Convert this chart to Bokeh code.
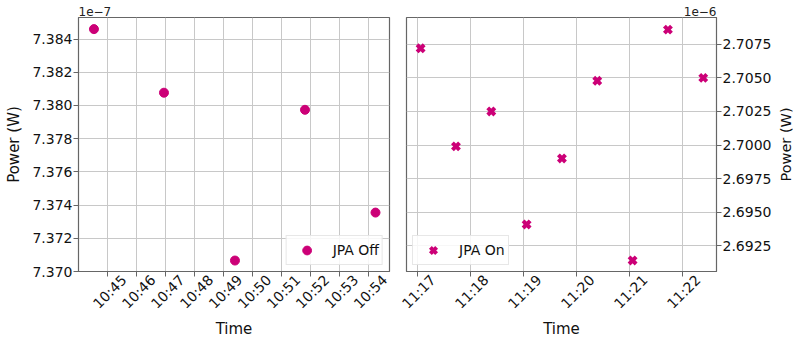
import math
import pandas as pd
from bokeh.plotting import figure
from bokeh.layouts import row
from bokeh.models import (FixedTicker, DatetimeTickFormatter, NumeralTickFormatter,
                          Range1d, Legend, LegendItem, DatetimeAxis)
from bokeh.embed import file_html
from bokeh.resources import INLINE

DAY = "2024-01-01"

# JPA off: sample times and measured power (in units of 1e-7 W)
off_times = ["10:44:31", "10:46:56", "10:49:23", "10:51:48", "10:54:14"]
off_power = [7.38460, 7.38077, 7.37066, 7.37974, 7.37355]

# JPA on: sample times and measured power (in units of 1e-6 W)
on_times = ["11:17:04", "11:17:44", "11:18:24", "11:19:04", "11:19:44",
            "11:20:24", "11:21:04", "11:21:44", "11:22:24"]
on_power = [2.70720, 2.69990, 2.70250, 2.69409, 2.69900,
            2.70478, 2.69141, 2.70859, 2.70500]

# axis ticks
off_x_ticks = ["10:45", "10:46", "10:47", "10:48", "10:49",
               "10:50", "10:51", "10:52", "10:53", "10:54"]
on_x_ticks = ["11:17", "11:18", "11:19", "11:20", "11:21", "11:22"]
off_y_ticks = [7.370, 7.372, 7.374, 7.376, 7.378, 7.380, 7.382, 7.384]
on_y_ticks = [2.6925, 2.6950, 2.6975, 2.7000, 2.7025, 2.7050, 2.7075]

# visible windows
off_x_window = ("10:43:59", "10:54:43")
on_x_window = ("11:16:48", "11:22:39")
off_y_window = (7.3700, 7.3853)
on_y_window = (2.69059, 2.70949)

COLOR = "#CC0077"
FONT = "DejaVu Sans"
TEXT = "#111111"
SPINE = "#666666"
EPOCH = pd.Timestamp("1970-01-01")
LABEL_SHIFT_PX = 16   # slanted time labels sit centred under their ticks
HHMM = "%H:%M"


def to_ms(hms):
    if hms.count(":") == 1:
        hms = hms + ":00"
    return (pd.Timestamp(f"{DAY} {hms}") - EPOCH) / pd.Timedelta(milliseconds=1)


def hhmm_formatter():
    return DatetimeTickFormatter(
        milliseconds=HHMM, seconds=HHMM, minsec=HHMM, minutes=HHMM, hourmin=HHMM,
        hours=HHMM, days=HHMM, months=HHMM, years=HHMM)


def text_style(ax):
    ax.major_label_text_font = FONT
    ax.major_label_text_font_size = "14px"
    ax.major_label_text_color = TEXT
    ax.axis_label_text_font = FONT
    ax.axis_label_text_font_size = "15px"
    ax.axis_label_text_font_style = "normal"
    ax.axis_label_text_color = TEXT
    ax.minor_tick_in = 0
    ax.minor_tick_out = 0


def style(p, xticks, yticks, yfmt, offset_text, align, frame_w, y_title=True):
    # scale factor shown above the value axis
    p.title.text = offset_text
    p.title.align = align
    p.title.text_font = FONT
    p.title.text_font_size = "12px"
    p.title.text_font_style = "normal"
    p.title.text_color = "#222222"
    p.title.standoff = 3
    p.title.offset = 0

    tick_ms = [to_ms(t) for t in xticks]

    # time axis: tick marks only
    xa = p.xaxis[0]
    text_style(xa)
    xa.ticker = FixedTicker(ticks=tick_ms)
    xa.formatter = hhmm_formatter()
    xa.major_label_text_alpha = 0
    xa.major_label_standoff = 0
    xa.axis_line_color = SPINE
    xa.major_tick_line_color = SPINE
    xa.major_tick_in = 0
    xa.major_tick_out = 5

    # second time axis carrying the slanted labels and the title
    span = p.x_range.end - p.x_range.start
    shift = LABEL_SHIFT_PX * span / frame_w
    p.extra_x_ranges = {"labels": Range1d(p.x_range.start - shift,
                                          p.x_range.end - shift)}
    la = DatetimeAxis(x_range_name="labels", ticker=FixedTicker(ticks=tick_ms),
                      formatter=hhmm_formatter())
    text_style(la)
    la.major_label_orientation = math.pi / 4
    la.axis_line_color = None
    la.major_tick_line_color = None
    la.major_tick_in = 0
    la.major_tick_out = 0
    la.major_label_standoff = 1
    la.axis_label_standoff = 0
    la.axis_label = "Time"
    p.add_layout(la, "below")

    ya = p.yaxis[0]
    text_style(ya)
    ya.ticker = FixedTicker(ticks=yticks)
    ya.formatter = NumeralTickFormatter(format=yfmt)
    ya.axis_line_color = SPINE
    ya.major_tick_line_color = SPINE
    ya.major_tick_in = 0
    ya.major_tick_out = 5
    ya.major_label_standoff = 1
    ya.axis_label_standoff = 6
    if y_title:
        ya.axis_label = "Power (W)"

    p.xgrid.ticker = FixedTicker(ticks=tick_ms)
    p.grid.grid_line_color = "#c8c8c8"
    p.grid.grid_line_width = 1
    p.outline_line_color = SPINE
    p.outline_line_width = 1.2
    p.background_fill_color = "white"
    p.border_fill_color = "white"


def make_legend(p, label, renderer, location):
    leg = Legend(items=[LegendItem(label=label, renderers=[renderer])],
                 location=location)
    leg.label_text_font = FONT
    leg.label_text_font_size = "14px"
    leg.label_text_color = TEXT
    leg.label_height = 16
    leg.border_line_color = "#d0d0d0"
    leg.background_fill_alpha = 0.85
    leg.margin = 6
    leg.padding = 3
    leg.glyph_width = 34
    leg.glyph_height = 22
    leg.label_standoff = 9
    leg.spacing = 0
    p.add_layout(leg)


# left panel: JPA off
left = figure(frame_width=311, frame_height=254, x_axis_type="datetime",
              x_range=Range1d(to_ms(off_x_window[0]), to_ms(off_x_window[1])),
              y_range=Range1d(*off_y_window),
              output_backend="svg", toolbar_location=None,
              min_border_left=78, min_border_right=8,
              min_border_top=17, min_border_bottom=60)
style(left, off_x_ticks, off_y_ticks, "0.000", "1e\u22127", "left", 311)
r_off = left.scatter([to_ms(t) for t in off_times], off_power,
                     marker="circle", size=9, fill_color=COLOR, line_color=COLOR)
make_legend(left, "JPA Off", r_off, "bottom_right")

# right panel: JPA on, value axis on the right
right = figure(frame_width=310, frame_height=254, x_axis_type="datetime",
               y_axis_location="right",
               x_range=Range1d(to_ms(on_x_window[0]), to_ms(on_x_window[1])),
               y_range=Range1d(*on_y_window),
               output_backend="svg", toolbar_location=None,
               min_border_left=9, min_border_right=52,
               min_border_top=17, min_border_bottom=60)
style(right, on_x_ticks, on_y_ticks, "0.0000", "1e\u22126", "right", 310,
      y_title=False)
r_on = right.scatter([to_ms(t) for t in on_times], on_power,
                     marker="x", size=10, line_width=4, line_color=COLOR)
make_legend(right, "JPA On", r_on, "bottom_left")

# narrow strip holding the right panel's value-axis title (reads bottom to top)
strip = figure(frame_width=1, frame_height=254,
               x_range=Range1d(0, 1), y_range=Range1d(*on_y_window),
               x_axis_location=None, output_backend="svg",
               toolbar_location=None, min_border_left=16, min_border_right=0,
               min_border_top=17, min_border_bottom=68)
strip.grid.visible = False
strip.outline_line_color = None
sa = strip.yaxis[0]
text_style(sa)
sa.axis_label_text_font_size = "14.5px"
sa.ticker = FixedTicker(ticks=[on_y_ticks[3]])
sa.major_label_text_alpha = 0
sa.major_tick_out = 0
sa.major_tick_in = 0
sa.major_tick_line_color = None
sa.major_label_standoff = 0
sa.axis_line_color = None
sa.axis_label_standoff = 0
sa.axis_label = "Power (W)"

layout = row(left, right, strip, spacing=0)
open("out.html", "w").write(file_html(layout, INLINE))
